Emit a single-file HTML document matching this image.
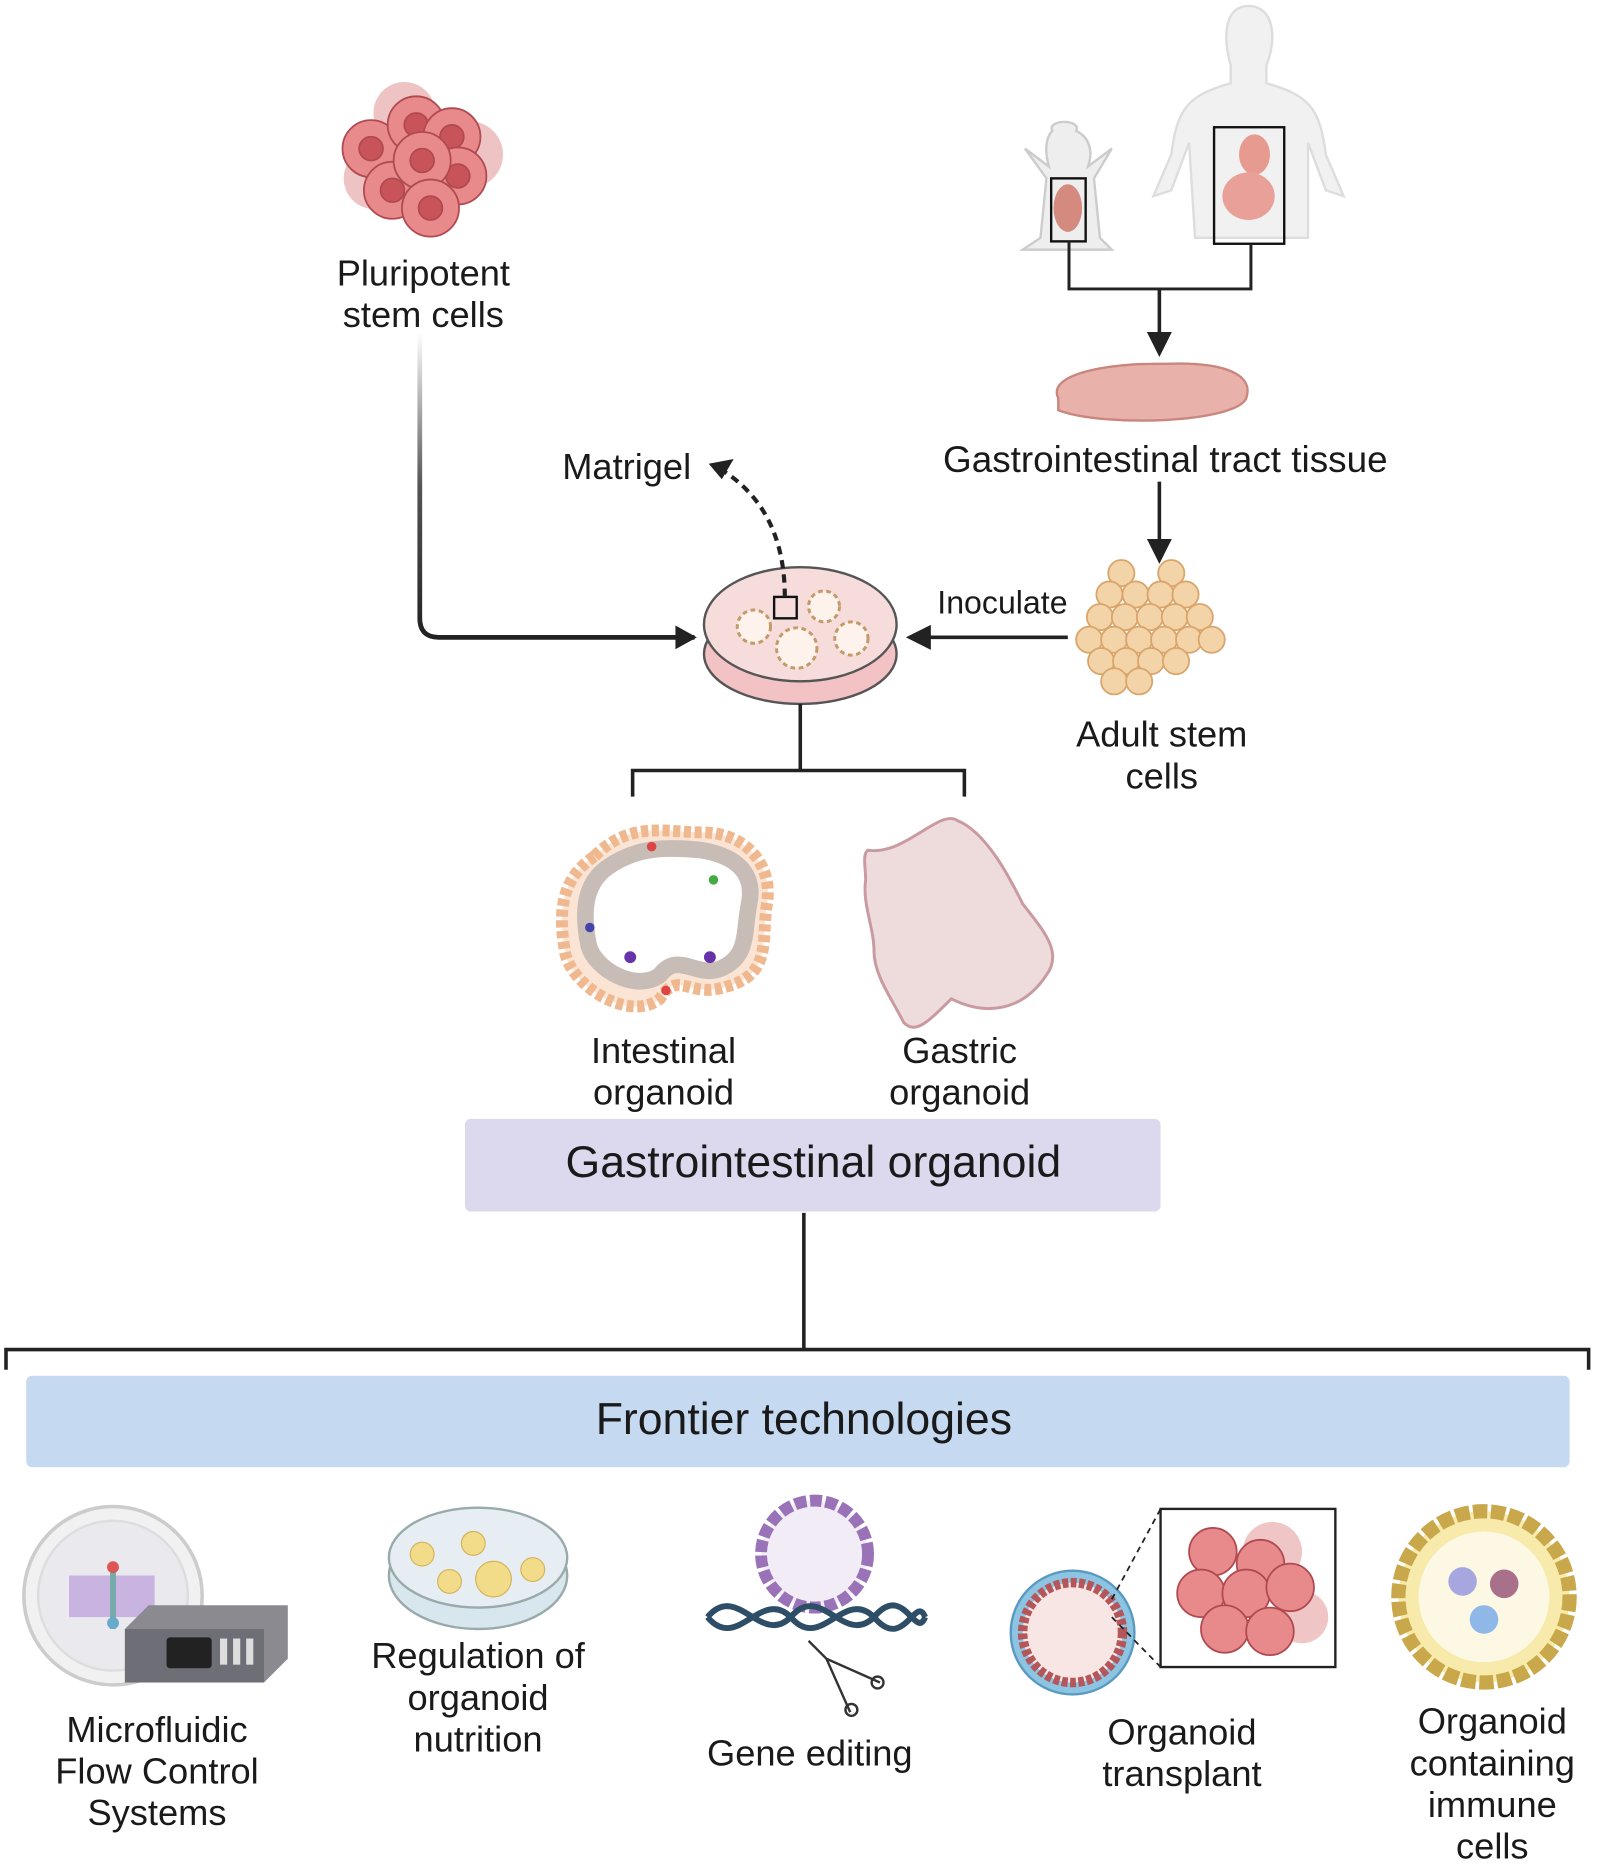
<!DOCTYPE html>
<html><head><meta charset="utf-8"><style>
html,body{margin:0;padding:0;background:#fff}
svg{display:block}
text{font-family:"Liberation Sans",sans-serif;fill:#1a1a1a}
</style></head><body>
<svg width="1597" height="1868" viewBox="0 0 1343 1571" xmlns="http://www.w3.org/2000/svg">
<defs>
<linearGradient id="g1" x1="0" y1="0" x2="0" y2="1"><stop offset="0" stop-color="#fff"/><stop offset="0.5" stop-color="#555"/><stop offset="1" stop-color="#222"/></linearGradient>
<marker id="ar" viewBox="0 0 10 10" refX="8" refY="5" markerWidth="7" markerHeight="7" orient="auto"><path d="M0,0 L10,5 L0,10 z" fill="#222"/></marker>
</defs>

<g stroke="#b04a50" stroke-width="1.5">
<circle cx="340" cy="95" r="26" fill="#eec3c3" stroke="none"/>
<circle cx="395" cy="130" r="28" fill="#eec3c3" stroke="none"/>
<circle cx="315" cy="150" r="26" fill="#eec3c3" stroke="none"/>
<circle cx="312" cy="125" r="24" fill="#e88a8c"/><circle cx="312" cy="125" r="10" fill="#c8545a"/>
<circle cx="350" cy="105" r="24" fill="#e88a8c"/><circle cx="350" cy="105" r="10" fill="#c8545a"/>
<circle cx="380" cy="115" r="24" fill="#e88a8c"/><circle cx="380" cy="115" r="10" fill="#c8545a"/>
<circle cx="385" cy="148" r="24" fill="#e88a8c"/><circle cx="385" cy="148" r="10" fill="#c8545a"/>
<circle cx="330" cy="160" r="24" fill="#e88a8c"/><circle cx="330" cy="160" r="10" fill="#c8545a"/>
<circle cx="355" cy="135" r="24" fill="#e88a8c"/><circle cx="355" cy="135" r="10" fill="#c8545a"/>
<circle cx="362" cy="175" r="24" fill="#e88a8c"/><circle cx="362" cy="175" r="10" fill="#c8545a"/>
</g>
<text x="356" y="240" font-size="30.5" text-anchor="middle">Pluripotent</text>
<text x="356" y="275" font-size="30.5" text-anchor="middle">stem cells</text>
<path d="M353,280 L353,520 Q353,536 369,536 L584,536" fill="none" stroke="url(#g1)" stroke-width="4"/>
<path d="M568,526 L586,536 L568,546 z" fill="#222"/>

<path d="M1050,5 C1030,5 1028,30 1035,55 L1035,70 C1000,80 990,90 985,130 L970,165 L985,160 L1000,120 L1005,200 L1100,200 L1100,120 L1115,160 L1130,165 L1115,130 C1110,90 1100,80 1065,70 L1065,55 C1075,30 1070,5 1050,5 z" fill="#f1f1f1" stroke="#ddd" stroke-width="2"/>
<rect x="1021" y="107" width="59" height="98" fill="none" stroke="#111" stroke-width="2"/>
<ellipse cx="1055" cy="130" rx="13" ry="17" fill="#e69a90"/>
<ellipse cx="1050" cy="165" rx="22" ry="20" fill="#e8a098"/>
<path d="M885,110 C880,100 910,100 905,110 C915,115 920,125 915,140 L935,125 L920,150 L925,200 L935,210 L860,210 L875,200 L880,150 L862,125 L882,140 C878,125 880,115 885,110 z" fill="#eee" stroke="#ccc" stroke-width="2"/>
<rect x="884" y="150" width="29" height="53" fill="none" stroke="#111" stroke-width="2"/>
<ellipse cx="898" cy="175" rx="12" ry="20" fill="#d58a80"/>
<path d="M899,203 L899,243 L1052,243 L1052,205" fill="none" stroke="#222" stroke-width="2.5"/>
<path d="M975,243 L975,296" stroke="#222" stroke-width="3" marker-end="url(#ar)"/>

<path d="M890,335 C880,315 930,305 980,306 C1030,304 1055,315 1048,335 C1040,355 930,360 890,345 z" fill="#e8b2aa" stroke="#c9867d" stroke-width="2"/>
<text x="980" y="397" font-size="31" text-anchor="middle">Gastrointestinal tract tissue</text>
<path d="M975,405 L975,470" stroke="#222" stroke-width="3" marker-end="url(#ar)"/>

<g fill="#f3d3a8" stroke="#d9a56a" stroke-width="1.5">
<circle cx="943" cy="482" r="11"/><circle cx="985" cy="482" r="11"/>
<circle cx="933" cy="500" r="11"/><circle cx="955" cy="500" r="11"/><circle cx="976" cy="500" r="11"/><circle cx="997" cy="500" r="11"/>
<circle cx="925" cy="519" r="11"/><circle cx="946" cy="519" r="11"/><circle cx="967" cy="519" r="11"/><circle cx="988" cy="519" r="11"/><circle cx="1009" cy="519" r="11"/>
<circle cx="916" cy="538" r="11"/><circle cx="937" cy="538" r="11"/><circle cx="958" cy="538" r="11"/><circle cx="979" cy="538" r="11"/><circle cx="1000" cy="538" r="11"/><circle cx="1019" cy="538" r="11"/>
<circle cx="926" cy="556" r="11"/><circle cx="947" cy="556" r="11"/><circle cx="968" cy="556" r="11"/><circle cx="989" cy="556" r="11"/>
<circle cx="937" cy="573" r="11"/><circle cx="958" cy="573" r="11"/>
</g>
<text x="977" y="628" font-size="30.5" text-anchor="middle">Adult stem</text>
<text x="977" y="663" font-size="30.5" text-anchor="middle">cells</text>
<path d="M898,536 L766,536" stroke="#222" stroke-width="3" marker-end="url(#ar)"/>
<text x="843" y="516" font-size="27" text-anchor="middle">Inoculate</text>

<ellipse cx="673" cy="550" rx="81" ry="42" fill="#f2c2c4" stroke="#555" stroke-width="2"/>
<ellipse cx="673" cy="525" rx="81" ry="48" fill="#f7dcdc" stroke="#555" stroke-width="2"/>
<g fill="#fdf3ec" stroke="#c59a6a" stroke-width="2.5" stroke-dasharray="4 3">
<circle cx="634" cy="527" r="14"/><circle cx="693" cy="510" r="13"/><circle cx="670" cy="545" r="17"/><circle cx="716" cy="537" r="14"/>
</g>
<rect x="651" y="502" width="19" height="18" fill="none" stroke="#111" stroke-width="2"/>
<path d="M660,502 C660,450 640,415 605,394" fill="none" stroke="#222" stroke-width="3.5" stroke-dasharray="7 5"/>
<path d="M596,390 L617,386 L607,403 z" fill="#222"/>
<text x="527" y="403" font-size="30.5" text-anchor="middle">Matrigel</text>

<path d="M673,592 L673,648 M532,670 L532,648 L811,648 L811,670" fill="none" stroke="#222" stroke-width="3"/>

<path d="M500,720 C530,690 560,700 590,700 C630,700 650,730 645,760 C640,790 650,820 610,830 C580,840 570,815 555,840 C530,860 480,830 475,800 C470,770 470,740 500,720 z" fill="#fbe4d4" stroke="#f0b88e" stroke-width="10" stroke-dasharray="6 3"/>
<path d="M510,730 C535,712 560,712 590,715 C620,720 635,735 630,760 C625,785 630,805 605,815 C585,822 570,800 555,820 C535,835 500,815 495,795 C490,770 490,745 510,730 z" fill="#fff" stroke="#c8bcb6" stroke-width="14"/>
<circle cx="548" cy="712" r="4" fill="#d44"/><circle cx="600" cy="740" r="4" fill="#4a4"/><circle cx="530" cy="805" r="5" fill="#63a"/><circle cx="597" cy="805" r="5" fill="#63a"/><circle cx="496" cy="780" r="4" fill="#44a"/><circle cx="560" cy="833" r="4" fill="#d44"/>
<text x="558" y="894" font-size="30.5" text-anchor="middle">Intestinal</text>
<text x="558" y="929" font-size="30.5" text-anchor="middle">organoid</text>
<path d="M730,715 C760,720 790,680 805,690 C830,700 850,740 860,760 C875,780 895,800 880,820 C860,850 830,855 800,840 C780,860 770,870 760,860 C750,840 735,820 735,800 C735,780 725,760 728,740 C728,730 725,718 730,715 z" fill="#eedcdc" stroke="#c99aa0" stroke-width="2.5"/>
<text x="807" y="894" font-size="30.5" text-anchor="middle">Gastric</text>
<text x="807" y="929" font-size="30.5" text-anchor="middle">organoid</text>

<rect x="391" y="941" width="585" height="78" rx="5" fill="#dcd9ee"/>
<text x="684" y="990" font-size="37.5" text-anchor="middle">Gastrointestinal organoid</text>
<path d="M676,1020 L676,1135 M5,1152 L5,1135 L1336,1135 L1336,1152" fill="none" stroke="#222" stroke-width="3"/>
<rect x="22" y="1157" width="1298" height="77" rx="5" fill="#c5d9f1"/>
<text x="676" y="1206" font-size="37.5" text-anchor="middle">Frontier technologies</text>

<circle cx="95" cy="1342" r="75" fill="#f1f1f1" stroke="#ccc" stroke-width="3"/>
<circle cx="95" cy="1342" r="63" fill="#e9e9ee" stroke="#ddd" stroke-width="2"/>
<rect x="58" y="1325" width="72" height="35" fill="#c9b3e0"/>
<line x1="95" y1="1315" x2="95" y2="1370" stroke="#7aa" stroke-width="5"/>
<circle cx="95" cy="1318" r="5" fill="#d55"/><circle cx="95" cy="1365" r="5" fill="#6ac"/>
<path d="M105,1370 L125,1350 L242,1350 L242,1395 L222,1415 L105,1415 z" fill="#8a8a90"/>
<rect x="105" y="1370" width="117" height="45" fill="#6e6e76"/>
<rect x="140" y="1377" width="38" height="26" rx="3" fill="#222"/>
<g fill="#ddd"><rect x="185" y="1378" width="6" height="22"/><rect x="196" y="1378" width="6" height="22"/><rect x="207" y="1378" width="6" height="22"/></g>
<text x="132" y="1465" font-size="30.5" text-anchor="middle">Microfluidic</text>
<text x="132" y="1500" font-size="30.5" text-anchor="middle">Flow Control</text>
<text x="132" y="1535" font-size="30.5" text-anchor="middle">Systems</text>

<ellipse cx="402" cy="1325" rx="75" ry="45" fill="#d8e6ee" stroke="#9aa" stroke-width="2"/>
<ellipse cx="402" cy="1310" rx="75" ry="42" fill="#e6eef3" stroke="#9aa" stroke-width="2"/>
<g fill="#f2dc8a" stroke="#d4b45a"><circle cx="355" cy="1307" r="10"/><circle cx="398" cy="1298" r="10"/><circle cx="378" cy="1330" r="10"/><circle cx="415" cy="1328" r="15"/><circle cx="448" cy="1320" r="10"/></g>
<text x="402" y="1403" font-size="30.5" text-anchor="middle">Regulation of</text>
<text x="402" y="1438" font-size="30.5" text-anchor="middle">organoid</text>
<text x="402" y="1473" font-size="30.5" text-anchor="middle">nutrition</text>

<circle cx="685" cy="1307" r="45" fill="#f1ecf6" stroke="#9a72b8" stroke-width="10" stroke-dasharray="10 3"/>
<path d="M595,1360 C620,1330 640,1385 665,1360 C690,1330 710,1385 735,1360 C760,1330 770,1380 778,1360" fill="none" stroke="#2d4e66" stroke-width="5"/>
<path d="M595,1360 C620,1390 640,1335 665,1360 C690,1390 710,1335 735,1360 C760,1390 770,1340 778,1360" fill="none" stroke="#2d4e66" stroke-width="5"/>
<path d="M680,1380 L695,1395 L740,1415 M695,1395 L715,1440" fill="none" stroke="#333" stroke-width="2"/>
<circle cx="738" cy="1415" r="5" fill="none" stroke="#333" stroke-width="2"/><circle cx="716" cy="1438" r="5" fill="none" stroke="#333" stroke-width="2"/>
<text x="681" y="1485" font-size="30.5" text-anchor="middle">Gene editing</text>

<circle cx="902" cy="1373" r="52" fill="#8cc4e2" stroke="#5a9ac0" stroke-width="2"/>
<circle cx="902" cy="1373" r="42" fill="#f7e6e4" stroke="#b4565a" stroke-width="8" stroke-dasharray="5 2"/>
<rect x="976" y="1269" width="147" height="133" fill="#fff" stroke="#222" stroke-width="2"/>
<path d="M935,1345 L976,1269 M935,1360 L976,1402" stroke="#222" stroke-dasharray="5 4" stroke-width="1.5"/>
<g stroke="#b04a50" stroke-width="1.5">
<circle cx="1070" cy="1305" r="25" fill="#f0c5c5" stroke="none"/><circle cx="1095" cy="1360" r="22" fill="#f0c5c5" stroke="none"/>
<circle cx="1020" cy="1305" r="20" fill="#e88a8c"/><circle cx="1060" cy="1315" r="20" fill="#e88a8c"/><circle cx="1010" cy="1340" r="20" fill="#e88a8c"/>
<circle cx="1048" cy="1340" r="20" fill="#e88a8c"/><circle cx="1085" cy="1335" r="20" fill="#e88a8c"/><circle cx="1030" cy="1370" r="20" fill="#e88a8c"/><circle cx="1068" cy="1372" r="20" fill="#e88a8c"/>
</g>
<text x="994" y="1467" font-size="30.5" text-anchor="middle">Organoid</text>
<text x="994" y="1502" font-size="30.5" text-anchor="middle">transplant</text>

<circle cx="1248" cy="1343" r="72" fill="#f7eaaa" stroke="#c8a84a" stroke-width="12" stroke-dasharray="12 3"/>
<circle cx="1248" cy="1343" r="55" fill="#fdf8e4"/>
<circle cx="1230" cy="1330" r="12" fill="#a7a7e0"/><circle cx="1265" cy="1332" r="12" fill="#a8708a"/><circle cx="1248" cy="1362" r="12" fill="#8fb8e8"/>
<text x="1255" y="1458" font-size="30.5" text-anchor="middle">Organoid</text>
<text x="1255" y="1493" font-size="30.5" text-anchor="middle">containing</text>
<text x="1255" y="1528" font-size="30.5" text-anchor="middle">immune</text>
<text x="1255" y="1563" font-size="30.5" text-anchor="middle">cells</text>
</svg>
</body></html>
